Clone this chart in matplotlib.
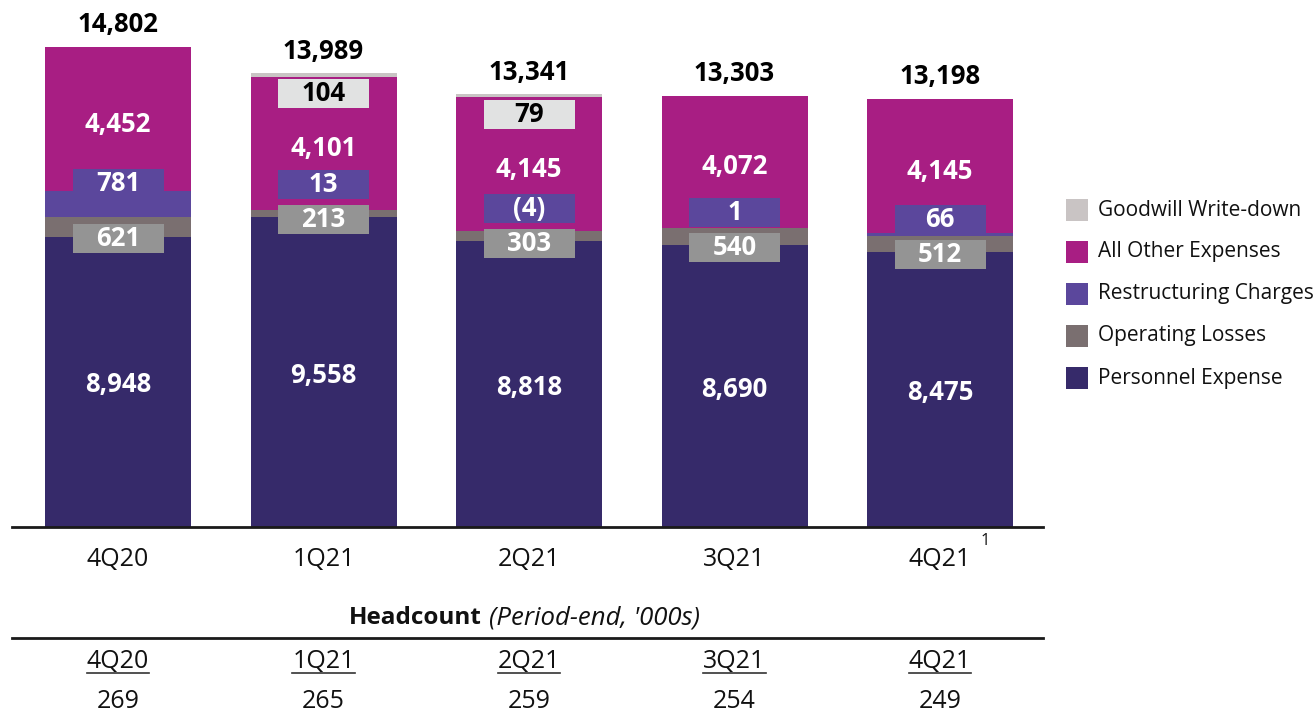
import matplotlib
matplotlib.use("Agg")
import matplotlib.pyplot as plt
from matplotlib.patches import Rectangle
from matplotlib.lines import Line2D
import matplotlib.transforms as mtransforms
import numpy as np

plt.rcParams['font.family'] = ['Open Sans', 'DejaVu Sans']

# ---------------- data ----------------
quarters = ["4Q20", "1Q21", "2Q21", "3Q21", "4Q21"]
personnel = [8948, 9558, 8818, 8690, 8475]
operating_losses = [621, 213, 303, 540, 512]
restructuring = [781, 13, -4, 1, 66]
all_other = [4452, 4101, 4145, 4072, 4145]
goodwill = [0, 104, 79, 0, 0]
totals = [14802, 13989, 13341, 13303, 13198]
headcount = [269, 265, 259, 254, 249]
series_names = ["Personnel Expense", "Operating Losses", "Restructuring Charges",
                "All Other Expenses", "Goodwill Write-down"]

# ---------------- style ----------------
C_NAVY = "#362A6A"
C_OPL = "#7A6F70"
C_RES = "#5B479C"
C_OTH = "#A81E83"
C_GW = "#C9C4C4"
C_OPL_BOX = "#949494"
C_GW_BOX = "#E1E2E2"
colors = [C_NAVY, C_OPL, C_RES, C_OTH, C_GW]

W, H = 1316, 718
fig = plt.figure(figsize=(W / 100, H / 100), dpi=100)
base_px = 527
ax = fig.add_axes([12 / W, (H - base_px) / H, (1043 - 12) / W, base_px / H])
px_per_unit = 480 / 14802
ax.set_xlim(-0.516, 4.501)
ax.set_ylim(0, base_px / px_per_unit)

x = np.arange(len(quarters))
bar_w = 146 / 205.5
stack = [personnel, operating_losses, restructuring, all_other, goodwill]
bottom = np.zeros(len(quarters))
bottoms = []
for vals, col in zip(stack, colors):
    vals = np.array(vals, dtype=float)
    bottoms.append(bottom.copy())
    ax.bar(x, vals, bottom=bottom, width=bar_w, color=col, linewidth=0, zorder=2)
    bottom = bottom + vals

for s in ["top", "right", "left"]:
    ax.spines[s].set_visible(False)
ax.spines["bottom"].set_linewidth(2)
ax.spines["bottom"].set_color("#1a1a1a")
ax.spines["bottom"].set_zorder(5)
ax.set_yticks([])
ax.set_xticks([])

unit_per_px = 1 / px_per_unit
box_w = 91 / 205.5
box_h = 29 * unit_per_px
LBL = 18.5

def box_label(xc, yc, text, face, tcolor):
    ax.add_patch(Rectangle((xc - box_w / 2, yc - box_h / 2), box_w, box_h,
                           facecolor=face, edgecolor="none", zorder=3))
    ax.text(xc, yc, text, ha="center", va="center", fontsize=LBL,
            fontweight="bold", color=tcolor, zorder=4)

def fmt(v):
    return f"({abs(v):,})" if v < 0 else f"{v:,}"

for i in range(len(quarters)):
    # personnel
    ax.text(x[i], personnel[i] / 2 - 3 * unit_per_px, fmt(personnel[i]), ha="center",
            va="center", fontsize=LBL, fontweight="bold", color="white", zorder=4)
    # operating losses box centred near navy top
    op_c = bottoms[1][i] - 2 * unit_per_px
    box_label(x[i], op_c, fmt(operating_losses[i]), C_OPL_BOX, "white")
    # restructuring box above
    res_top = bottoms[2][i] + max(restructuring[i], 0)
    res_c = max(op_c + 35 * unit_per_px, res_top + 8 * unit_per_px)
    box_label(x[i], res_c, fmt(restructuring[i]), C_RES, "white")
    # all other
    oth_c = bottoms[3][i] + all_other[i] / 2 - 5 * unit_per_px
    ax.text(x[i], oth_c, fmt(all_other[i]), ha="center", va="center", fontsize=LBL,
            fontweight="bold", color="white", zorder=4)
    # goodwill
    if goodwill[i]:
        box_label(x[i], totals[i] - 20 * unit_per_px, fmt(goodwill[i]), C_GW_BOX, "black")
    # totals
    ax.annotate(f"{totals[i]:,}", xy=(x[i], totals[i]), xytext=(0, 16),
                textcoords="offset points", ha="center", va="center",
                fontsize=LBL, fontweight="bold", color="black")

# category labels
blend = mtransforms.blended_transform_factory(ax.transData, fig.transFigure)
def fy(py):
    return 1 - py / H

for i, q in enumerate(quarters):
    fig.text(x[i], fy(560), q, transform=blend, ha="center", va="center",
             fontsize=18, color="#111111")
fig.text(x[4] + 45 / 205.5, fy(541), "1", transform=blend, ha="center", va="center",
         fontsize=12, color="#111111")

# headcount section
fig.text(482 / W, fy(618), "Headcount", ha="right", va="center", fontsize=17.5,
         fontweight="bold", color="#111111")
fig.text(489 / W, fy(618), "(Period-end, '000s)", ha="left", va="center", fontsize=18.5,
         fontstyle="italic", color="#111111")
fig.add_artist(Line2D([12 / W, 1043 / W], [fy(638), fy(638)], transform=fig.transFigure,
                      color="#1a1a1a", linewidth=2))

qtexts = []
for i, q in enumerate(quarters):
    t = fig.text(x[i], fy(661), q, transform=blend, ha="center", va="center",
                 fontsize=18, color="#111111")
    qtexts.append(t)
    fig.text(x[i], fy(701), str(headcount[i]), transform=blend, ha="center", va="center",
             fontsize=18, color="#111111")

fig.canvas.draw()
r = fig.canvas.get_renderer()
for t in qtexts:
    bb = t.get_window_extent(r)
    fig.add_artist(Line2D([bb.x0 / W, bb.x1 / W], [fy(673), fy(673)],
                          transform=fig.transFigure, color="#333333", linewidth=1.2))

# legend (top to bottom reversed)
leg_y = [210, 252, 294, 336, 378]
for k, idx in enumerate([4, 3, 2, 1, 0]):
    yc = leg_y[k]
    fig.add_artist(Rectangle((1066 / W, fy(yc + 11)), 22 / W, 22 / H,
                             transform=fig.transFigure, facecolor=colors[idx],
                             edgecolor="none"))
    fig.text(1098 / W, fy(yc), series_names[idx], ha="left", va="center",
             fontsize=15, color="#111111")

fig.savefig("out.png", dpi=100)
